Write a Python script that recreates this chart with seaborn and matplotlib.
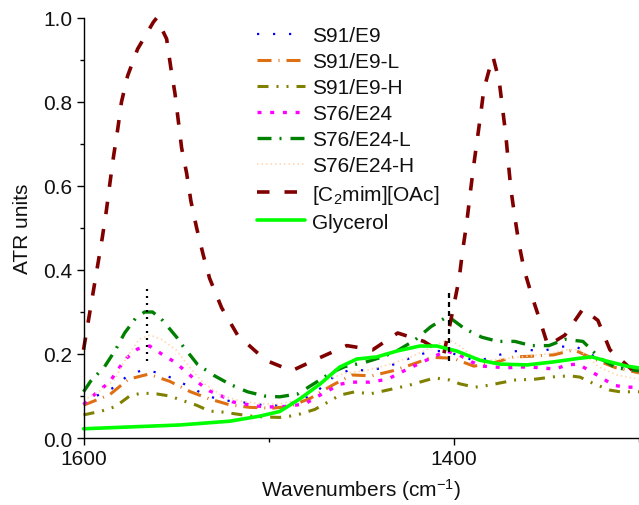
import numpy as np
import pandas as pd
import matplotlib
matplotlib.use("Agg")
import matplotlib.pyplot as plt
import seaborn as sns
from matplotlib.ticker import MultipleLocator, FormatStrFormatter

# ---------------- data ----------------
s91_e9_wn = [1600, 1594.1, 1584.9, 1576.2, 1568.1, 1558.9, 1549.7, 1541.6, 1533, 1524.9, 1515.7,
             1507.6, 1498.4, 1489.7, 1481.6, 1472.4, 1464.3, 1455.1, 1447, 1438.4, 1429.7, 1421.1,
             1411.9, 1403.8, 1395.1, 1387, 1377.8, 1369.7, 1360.5, 1351.9, 1343.8, 1334.6, 1326.5,
             1317.3, 1309.2, 1300]
s91_e9_atr = [0.08, 0.098, 0.117, 0.148, 0.162, 0.155, 0.138, 0.119, 0.10, 0.09, 0.086,
              0.081, 0.076, 0.081, 0.09, 0.117, 0.148, 0.164, 0.16, 0.167, 0.179, 0.195,
              0.207, 0.207, 0.192, 0.183, 0.195, 0.205, 0.21, 0.207, 0.217, 0.219, 0.20,
              0.179, 0.169, 0.167]

s91_e9_l_wn = [1600, 1585.9, 1575.7, 1564.9, 1553.5, 1542.2, 1531.9, 1521.1, 1510.3, 1498.4, 1488.6,
               1477.3, 1465.9, 1455.1, 1444.3, 1433, 1422.7, 1411.9, 1400.5, 1389.2, 1377.8,
               1367.6, 1356.8, 1346, 1335.1, 1324.3, 1313, 1300]
s91_e9_l_atr = [0.078, 0.103, 0.14, 0.152, 0.135, 0.11, 0.093, 0.079, 0.073, 0.071, 0.075,
                0.095, 0.125, 0.15, 0.148, 0.16, 0.175, 0.192, 0.19, 0.171, 0.18,
                0.193, 0.195, 0.198, 0.21, 0.188, 0.168, 0.155]

s91_e9_h_wn = [1600, 1590.3, 1582.7, 1575.1, 1568.6, 1560.5, 1553.5, 1547, 1538.9, 1531.9, 1525.4,
               1517.3, 1509.2, 1502.2, 1494.1, 1488.6, 1483.2, 1475.1, 1467, 1461.6, 1453.5,
               1445.4, 1440, 1431.9, 1423.8, 1418.4, 1410.3, 1402.2, 1396.8, 1388.6, 1380.5,
               1375.1, 1367, 1356.2, 1345.4, 1337.3, 1331.9, 1323.8, 1315.7, 1310.3, 1300]
s91_e9_h_atr = [0.055, 0.064, 0.075, 0.10, 0.107, 0.105, 0.10, 0.09, 0.078, 0.064, 0.062,
                0.057, 0.052, 0.05, 0.049, 0.052, 0.057, 0.068, 0.088, 0.102, 0.11,
                0.105, 0.11, 0.118, 0.126, 0.133, 0.143, 0.138, 0.129, 0.121, 0.126,
                0.131, 0.138, 0.14, 0.146, 0.148, 0.145, 0.128, 0.114, 0.11, 0.11]

s76_e24_wn = [1600, 1592.4, 1585.9, 1581.6, 1576.8, 1570.8, 1564.3, 1557.8, 1550.8, 1544.3, 1538.4,
              1531.9, 1525.4, 1519.5, 1513, 1506.5, 1499.5, 1491.4, 1480.5, 1474, 1468.1,
              1461.6, 1455.1, 1445.4, 1435.7, 1429.2, 1422.7, 1416.8, 1410.3, 1403.8, 1396.8,
              1390.3, 1384.3, 1377.8, 1371.4, 1365.4, 1358.9, 1352.4, 1345.4, 1338.9, 1333,
              1326.5, 1320, 1314, 1307.6, 1300]
s76_e24_atr = [0.08, 0.11, 0.133, 0.162, 0.19, 0.212, 0.219, 0.20, 0.181, 0.157, 0.133,
               0.112, 0.10, 0.086, 0.081, 0.076, 0.074, 0.075, 0.081, 0.098, 0.112,
               0.128, 0.133, 0.133, 0.14, 0.155, 0.169, 0.181, 0.195, 0.207, 0.197,
               0.181, 0.171, 0.169, 0.167, 0.169, 0.169, 0.167, 0.164, 0.174, 0.176,
               0.16, 0.143, 0.126, 0.121, 0.121]

s76_e24_l_wn = [1600, 1596.2, 1588.6, 1582.7, 1577.8, 1571.9, 1567, 1562.7, 1557.3, 1553.5, 1549.7,
                1546.5, 1538.4, 1529.2, 1520.5, 1511.4, 1502.2, 1494.1, 1484.3, 1473.5, 1466.5,
                1458.9, 1448.1, 1437.3, 1429.7, 1421.1, 1412.4, 1403.2, 1394.1, 1384.9, 1376.2,
                1367, 1358.4, 1348.6, 1340, 1330.3, 1321.1, 1312.4, 1300]
s76_e24_l_atr = [0.11, 0.135, 0.17, 0.21, 0.25, 0.285, 0.30, 0.30, 0.28, 0.26, 0.24,
                 0.22, 0.175, 0.148, 0.127, 0.11, 0.10, 0.098, 0.105, 0.135, 0.155,
                 0.17, 0.18, 0.195, 0.21, 0.233, 0.265, 0.29, 0.26, 0.24, 0.23,
                 0.23, 0.22, 0.22, 0.235, 0.23, 0.19, 0.167, 0.16]

s76_e24_h_wn = [1600, 1590, 1583, 1577, 1570, 1564, 1558, 1550, 1543, 1535, 1525, 1515, 1505, 1495,
                1485, 1478, 1468, 1458, 1448, 1435, 1422, 1410, 1403, 1397, 1390, 1382, 1370,
                1360, 1350, 1340, 1332, 1322, 1312, 1300]
s76_e24_h_atr = [0.09, 0.115, 0.14, 0.19, 0.235, 0.245, 0.235, 0.21, 0.17, 0.13, 0.10, 0.088, 0.082,
                 0.08, 0.09, 0.11, 0.14, 0.155, 0.16, 0.175, 0.195, 0.22, 0.235, 0.22, 0.195,
                 0.185, 0.19, 0.195, 0.20, 0.21, 0.21, 0.17, 0.15, 0.14]

il_wn = [1600, 1592.4, 1589.9, 1587.7, 1585.8, 1583.8, 1581.6, 1579.5, 1576.2, 1570.8, 1562.3,
         1560.5, 1555.1, 1552.8, 1550.6, 1548.8, 1547, 1544.3, 1542, 1538.9, 1535.3, 1531.9,
         1525.4, 1516.8, 1501.6, 1487.6, 1473, 1457.8, 1443.8, 1430.3, 1416.2, 1405.4,
         1400.4, 1397.1, 1395.3, 1393.1, 1391.4, 1389.6, 1387.7, 1385.6, 1383.8, 1379.6,
         1378.8, 1375.5, 1373.7, 1371.9, 1370.6, 1369.2, 1367.2, 1364.9, 1362, 1357.7,
         1353.5, 1349.2, 1340, 1330.3, 1322.2, 1315.7, 1303.2, 1300]
il_atr = [0.21, 0.41, 0.476, 0.54, 0.605, 0.67, 0.733, 0.80, 0.862, 0.926, 0.99,
          1.0, 0.95, 0.88, 0.82, 0.755, 0.69, 0.63, 0.564, 0.50, 0.435, 0.38,
          0.31, 0.245, 0.185, 0.16, 0.19, 0.22, 0.21, 0.25, 0.23, 0.20,
          0.307, 0.38, 0.445, 0.51, 0.574, 0.638, 0.70, 0.767, 0.83, 0.898,
          0.907, 0.85, 0.785, 0.72, 0.657, 0.593, 0.53, 0.464, 0.40, 0.336,
          0.28, 0.22, 0.245, 0.307, 0.28, 0.21, 0.16, 0.15]

gly_wn = [1600, 1548.1, 1521.1, 1504.9, 1494.1, 1483.2, 1472.4, 1461.6, 1452.4, 1441.6, 1430.8,
          1418.4, 1409.2, 1398.4, 1385.9, 1375.1, 1360.5, 1346.5, 1331.9, 1325.4, 1317.3,
          1306.5, 1300]
gly_atr = [0.022, 0.031, 0.04, 0.052, 0.063, 0.093, 0.128, 0.169, 0.188, 0.193, 0.207,
           0.219, 0.219, 0.207, 0.185, 0.176, 0.174, 0.181, 0.19, 0.193, 0.183,
           0.171, 0.167]

labels = ["S91/E9", "S91/E9-L", "S91/E9-H", "S76/E24", "S76/E24-L", "S76/E24-H",
          "[C$_2$mim][OAc]", "Glycerol"]

marker1_wn = [1565.6, 1565.6]
marker1_atr = [0.183, 0.36]
marker2_wn = [1402.7, 1402.7]
marker2_atr = [0.183, 0.345]

# ---------------- styling ----------------
sns.set_theme(style="ticks")
plt.rcParams['font.family'] = ['Liberation Sans', 'DejaVu Sans']
plt.rcParams['mathtext.fontset'] = 'custom'
plt.rcParams['mathtext.rm'] = 'Liberation Sans'
plt.rcParams['mathtext.it'] = 'Liberation Sans:italic'
plt.rcParams['mathtext.bf'] = 'Liberation Sans:bold'
plt.rcParams['axes.unicode_minus'] = True

PX = 100 / 72.0


def dash(lw, px):
    return (0, tuple(p / (lw * PX) for p in px))


series = [
    (s91_e9_wn, s91_e9_atr, '#0000FF', 1.6, dash(1.6, (2.2, 13.8))),
    (s91_e9_l_wn, s91_e9_l_atr, '#DE6F12', 2.2, dash(2.2, (14, 7, 1, 7))),
    (s91_e9_h_wn, s91_e9_h_atr, '#808000', 2.2, dash(2.2, (11, 8, 2, 8, 2, 8))),
    (s76_e24_wn, s76_e24_atr, '#FF00FF', 2.4, dash(2.4, (4, 8.7))),
    (s76_e24_l_wn, s76_e24_l_atr, '#008000', 2.4, dash(2.4, (14, 8, 2, 9))),
    (s76_e24_h_wn, s76_e24_h_atr, '#FFD6B0', 1.2, dash(1.2, (1.5, 3))),
    (il_wn, il_atr, '#800000', 2.6, dash(2.6, (12.5, 15))),
    (gly_wn, gly_atr, '#00FF00', 2.6, '-'),
]

fig = plt.figure(figsize=(6.39, 5.06), dpi=100)
ax = fig.add_axes([0.1307, 0.1324, 0.8693, 0.8301])

for (wn, atr, col, lw, lsty), lab in zip(series, labels):
    df = pd.DataFrame({"wn": wn, "atr": atr})
    sns.lineplot(data=df, x="wn", y="atr", ax=ax, color=col, linewidth=lw,
                 linestyle=lsty, label=lab, sort=False, estimator=None, clip_on=False)

sns.lineplot(x=marker1_wn, y=marker1_atr, ax=ax, color='black', linewidth=1.6,
             linestyle=dash(1.6, (2, 5)), sort=False, estimator=None, errorbar=None)
sns.lineplot(x=marker2_wn, y=marker2_atr, ax=ax, color='black', linewidth=1.6,
             linestyle=dash(1.6, (5, 4)), sort=False, estimator=None, errorbar=None)

ax.set_xlim(1600, 1300)
ax.set_ylim(0, 1.0)
ax.xaxis.set_major_locator(MultipleLocator(200))
ax.xaxis.set_minor_locator(MultipleLocator(100))
ax.yaxis.set_major_locator(MultipleLocator(0.2))
ax.yaxis.set_minor_locator(MultipleLocator(0.1))
ax.yaxis.set_major_formatter(FormatStrFormatter('%.1f'))
ax.xaxis.set_major_formatter(FormatStrFormatter('%d'))

for s in ['top', 'right']:
    ax.spines[s].set_visible(False)
for s in ['left', 'bottom']:
    ax.spines[s].set_color('black')
    ax.spines[s].set_linewidth(1.0)

ax.tick_params(axis='both', which='major', direction='out', length=5, width=1,
               labelsize=15, pad=3, color='black', labelcolor='#111111')
ax.tick_params(axis='both', which='minor', direction='out', length=3, width=1, color='black')

ax.set_xlabel("Wavenumbers (cm$^{\\mathregular{-1}}$)", fontsize=15, color='#111111', labelpad=6)
ax.set_ylabel("ATR units", fontsize=15, color='#111111', labelpad=8)

leg = ax.legend(loc='upper left', bbox_to_anchor=(257 / 639, 1 - 27 / 506),
                bbox_transform=fig.transFigure, frameon=False, fontsize=15,
                borderpad=0, borderaxespad=0, handlelength=2.3, handletextpad=0.35,
                labelspacing=0.34)
for t in leg.get_texts():
    t.set_color('#111111')

fig.savefig("out.png", dpi=100)
